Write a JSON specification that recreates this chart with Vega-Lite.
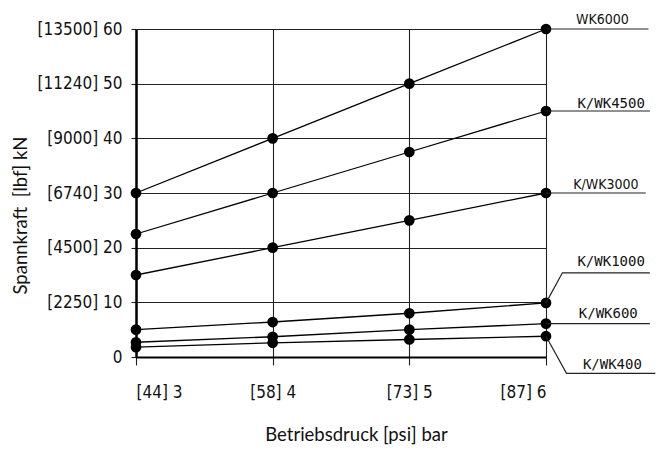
{
  "$schema": "https://vega.github.io/schema/vega-lite/v6.json",
  "width": 410,
  "height": 328,
  "autosize": {"type": "none"},
  "padding": {"left": 136, "top": 29, "right": 116, "bottom": 92},
  "background": "white",
  "config": {
    "view": {"stroke": null},
    "axis": {
      "gridColor": "#222222",
      "gridWidth": 1.1,
      "gridOpacity": 1,
      "tickColor": "#222222",
      "labelColor": "#111111",
      "titleColor": "#111111",
      "labelFont": "DejaVu Sans Condensed",
      "labelFontSize": 17,
      "titleFont": "Lato",
      "titleFontSize": 18.5,
      "titleFontWeight": "normal"
    }
  },
  "datasets": {
    "series": [
      {"model": "WK6000", "bar": 3, "kN": 30},
      {"model": "WK6000", "bar": 4, "kN": 40},
      {"model": "WK6000", "bar": 5, "kN": 50},
      {"model": "WK6000", "bar": 6, "kN": 60},
      {"model": "K/WK4500", "bar": 3, "kN": 22.5},
      {"model": "K/WK4500", "bar": 4, "kN": 30},
      {"model": "K/WK4500", "bar": 5, "kN": 37.5},
      {"model": "K/WK4500", "bar": 6, "kN": 45},
      {"model": "K/WK3000", "bar": 3, "kN": 15},
      {"model": "K/WK3000", "bar": 4, "kN": 20},
      {"model": "K/WK3000", "bar": 5, "kN": 25},
      {"model": "K/WK3000", "bar": 6, "kN": 30},
      {"model": "K/WK1000", "bar": 3, "kN": 5},
      {"model": "K/WK1000", "bar": 4, "kN": 6.4},
      {"model": "K/WK1000", "bar": 5, "kN": 8},
      {"model": "K/WK1000", "bar": 6, "kN": 9.9},
      {"model": "K/WK600", "bar": 3, "kN": 2.7},
      {"model": "K/WK600", "bar": 4, "kN": 3.7},
      {"model": "K/WK600", "bar": 5, "kN": 5},
      {"model": "K/WK600", "bar": 6, "kN": 6.1},
      {"model": "K/WK400", "bar": 3, "kN": 1.8},
      {"model": "K/WK400", "bar": 4, "kN": 2.6},
      {"model": "K/WK400", "bar": 5, "kN": 3.2},
      {"model": "K/WK400", "bar": 6, "kN": 3.8}
    ],
    "leaders": [
      {"model": "WK6000", "seq": 1, "bar": 6, "kN": 60},
      {"model": "WK6000", "seq": 2, "bar": 6.75, "kN": 60},
      {"model": "K/WK4500", "seq": 1, "bar": 6, "kN": 45},
      {"model": "K/WK4500", "seq": 2, "bar": 6.76, "kN": 45},
      {"model": "K/WK3000", "seq": 1, "bar": 6, "kN": 30},
      {"model": "K/WK3000", "seq": 2, "bar": 6.73, "kN": 30},
      {"model": "K/WK1000", "seq": 1, "bar": 6, "kN": 9.9},
      {"model": "K/WK1000", "seq": 2, "bar": 6.12, "kN": 15.4},
      {"model": "K/WK1000", "seq": 3, "bar": 6.76, "kN": 15.4},
      {"model": "K/WK600", "seq": 1, "bar": 6, "kN": 6.1},
      {"model": "K/WK600", "seq": 2, "bar": 6.76, "kN": 6.1},
      {"model": "K/WK400", "seq": 1, "bar": 6, "kN": 3.8},
      {"model": "K/WK400", "seq": 2, "bar": 6.15, "kN": -3.0},
      {"model": "K/WK400", "seq": 3, "bar": 6.8, "kN": -3.0}
    ],
    "labels": [
      {"model": "WK6000", "bar": 6.22, "kN": 61.6},
      {"model": "K/WK4500", "bar": 6.23, "kN": 46.3},
      {"model": "K/WK3000", "bar": 6.2, "kN": 31.5},
      {"model": "K/WK1000", "bar": 6.23, "kN": 17.3},
      {"model": "K/WK600", "bar": 6.24, "kN": 7.9},
      {"model": "K/WK400", "bar": 6.27, "kN": -1.5}
    ]
  },
  "layer": [
    {
      "data": {"name": "series"},
      "mark": {"type": "line", "color": "black", "strokeWidth": 1.3},
      "encoding": {
        "x": {
          "field": "bar",
          "type": "quantitative",
          "scale": {"domain": [3, 6], "nice": false, "zero": false},
          "axis": {
            "values": [3, 4, 5, 6],
            "grid": true,
            "domain": true,
            "domainColor": "black",
            "domainWidth": 2,
            "tickSize": 8,
            "tickWidth": 1.1,
            "labelPadding": 27,
            "labelBaseline": "middle",
            "labelExpr": "datum.value == 3 ? '[44] 3' : datum.value == 4 ? '[58] 4' : datum.value == 5 ? '[73] 5' : '[87] 6'",
            "title": "Betriebsdruck [psi] bar",
            "titleX": 220,
            "titleY": 77,
            "titleBaseline": "middle",
            "titleAlign": "center"
          }
        },
        "y": {
          "field": "kN",
          "type": "quantitative",
          "scale": {"domain": [0, 60], "nice": false},
          "axis": {
            "values": [0, 10, 20, 30, 40, 50, 60],
            "grid": true,
            "domain": true,
            "domainColor": "black",
            "domainWidth": 2.5,
            "tickSize": 5,
            "tickWidth": 1.1,
            "labelPadding": 9,
            "labelExpr": "datum.value == 0 ? '0' : datum.value == 10 ? '[2250] 10' : datum.value == 20 ? '[4500] 20' : datum.value == 30 ? '[6740] 30' : datum.value == 40 ? '[9000] 40' : datum.value == 50 ? '[11240] 50' : '[13500] 60'",
            "title": "Spannkraft\u00a0\u00a0[lbf] kN",
            "titleX": -116,
            "titleY": 186,
            "titleAngle": -90,
            "titleBaseline": "middle",
            "titleAlign": "center"
          }
        },
        "detail": {"field": "model"}
      }
    },
    {
      "data": {"name": "series"},
      "mark": {"type": "circle", "color": "black", "opacity": 1, "size": 115},
      "encoding": {
        "x": {"field": "bar", "type": "quantitative"},
        "y": {"field": "kN", "type": "quantitative"}
      }
    },
    {
      "data": {"name": "leaders"},
      "mark": {"type": "line", "color": "#222222", "strokeWidth": 1.2},
      "encoding": {
        "x": {"field": "bar", "type": "quantitative"},
        "y": {"field": "kN", "type": "quantitative"},
        "detail": {"field": "model"},
        "order": {"field": "seq"}
      }
    },
    {
      "mark": {"type": "rule", "color": "black", "strokeWidth": 2.5},
      "encoding": {"y": {"datum": 60}}
    },
    {
      "data": {"name": "labels"},
      "transform": [{"filter": "datum.model == 'WK6000' || datum.model == 'K/WK3000'"}],
      "mark": {"type": "text", "align": "left", "baseline": "middle", "font": "DejaVu Sans Condensed", "fontSize": 14, "color": "#111111"},
      "encoding": {
        "x": {"field": "bar", "type": "quantitative"},
        "y": {"field": "kN", "type": "quantitative"},
        "text": {"field": "model"}
      }
    },
    {
      "data": {"name": "labels"},
      "transform": [{"filter": "datum.model != 'WK6000' && datum.model != 'K/WK3000'"}],
      "mark": {"type": "text", "align": "left", "baseline": "middle", "font": "DejaVu Sans Mono", "fontSize": 14, "color": "#111111"},
      "encoding": {
        "x": {"field": "bar", "type": "quantitative"},
        "y": {"field": "kN", "type": "quantitative"},
        "text": {"field": "model"}
      }
    }
  ]
}
